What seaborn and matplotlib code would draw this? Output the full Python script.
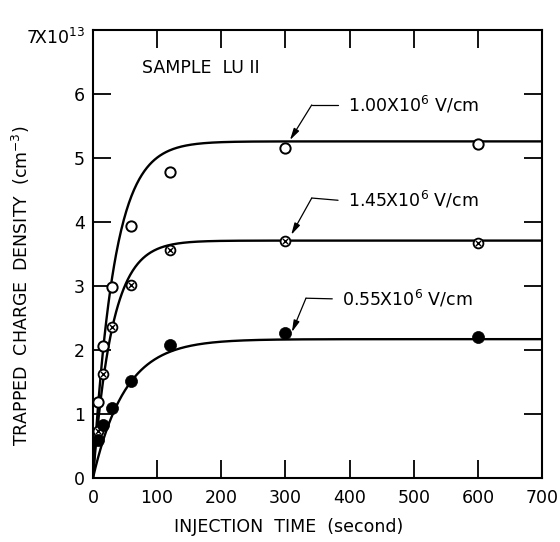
import numpy as np
import pandas as pd
import matplotlib
matplotlib.use("Agg")
import matplotlib.pyplot as plt
import matplotlib.transforms as mtransforms
import seaborn as sns

# ---- data ----
times = [7.5, 15, 30, 60, 120, 300, 600]
field_labels = ["1.00X10$^6$ V/cm", "1.45X10$^6$ V/cm", "0.55X10$^6$ V/cm"]
charge_100 = [1.19, 2.06, 2.98, 3.94, 4.78, 5.16, 5.22]
charge_145 = [0.74, 1.62, 2.36, 3.01, 3.56, 3.70, 3.67]
charge_055 = [0.59, 0.83, 1.09, 1.52, 2.08, 2.26, 2.20]
# fitted saturation curves: N(t) = Nsat * (1 - exp(-t / tau))
sat_levels = [5.26, 3.71, 2.17]
time_consts = [33.0, 30.0, 50.0]
x_ticks = [0, 100, 200, 300, 400, 500, 600, 700]
y_ticks = [0, 1, 2, 3, 4, 5, 6, 7]
y_tick_labels = ["0", "1", "2", "3", "4", "5", "6", "7X10$^{13}$"]

sns.set_style("ticks")
plt.rcParams["font.family"] = ["DejaVu Sans"]
plt.rcParams["text.color"] = "black"
plt.rcParams["axes.labelcolor"] = "black"
plt.rcParams["xtick.color"] = "black"
plt.rcParams["ytick.color"] = "black"

fig = plt.figure(figsize=(5.6, 5.42), dpi=100)
ax = fig.add_axes([0.166, 0.118, 0.802, 0.8266])

t_fit = np.linspace(0, 700, 700)
for A, tau in zip(sat_levels, time_consts):
    df = pd.DataFrame({"t": t_fit, "n": A * (1 - np.exp(-t_fit / tau))})
    sns.lineplot(data=df, x="t", y="n", ax=ax, color="black", lw=1.7, zorder=2)

df100 = pd.DataFrame({"t": times, "n": charge_100})
df145 = pd.DataFrame({"t": times, "n": charge_145})
df055 = pd.DataFrame({"t": times, "n": charge_055})

sns.scatterplot(data=df100, x="t", y="n", ax=ax, marker="o", s=55,
                facecolor="white", edgecolor="black", linewidth=1.4, zorder=3)
sns.scatterplot(data=df145, x="t", y="n", ax=ax, marker="o", s=50,
                facecolor="white", edgecolor="black", linewidth=1.3, zorder=3)
sns.scatterplot(data=df145, x="t", y="n", ax=ax, marker="x", s=14,
                color="black", linewidth=1.0, zorder=4)
sns.scatterplot(data=df055, x="t", y="n", ax=ax, marker="o", s=75,
                color="black", edgecolor="black", linewidth=0.5, zorder=3)

ax.set_xlim(0, 700)
ax.set_ylim(0, 7)
ax.set_xticks(x_ticks)
ax.set_xticklabels([str(v) for v in x_ticks])
ax.set_yticks(y_ticks)
ax.set_yticklabels(y_tick_labels)
ax.tick_params(direction="in", length=13, width=1.3, top=True, right=True,
               labelsize=12.5, pad=6, colors="black")
ax.tick_params(axis="x", pad=8)
# nudge the top "7X10^13" label down slightly, as in the reference
top_lab = ax.get_yticklabels()[-1]
top_lab.set_transform(top_lab.get_transform() +
                      mtransforms.ScaledTranslation(0, -6 / 100, fig.dpi_scale_trans))
for sp in ax.spines.values():
    sp.set_linewidth(1.5)
    sp.set_color("black")
    sp.set_visible(True)

ax.set_xlabel("INJECTION  TIME  (second)", fontsize=12.5, color="black")
ax.set_ylabel("TRAPPED  CHARGE  DENSITY  (cm$^{-3}$)", fontsize=12.5, color="black")
ax.xaxis.set_label_coords(0.435, -0.09)
ax.yaxis.set_label_coords(-0.135, 0.43)

ax.text(76, 6.4, "SAMPLE  LU II", fontsize=12.5, va="center", ha="left")

# annotations: text position, leader corner, arrow tip
label_pos = [(397, 5.83), (397, 4.34), (388, 2.80)]
corner_pos = [(341, 5.83), (341, 4.375), (332, 2.81)]
tip_pos = [(307, 5.28), (309, 3.80), (310, 2.28)]
for lab, (tx, ty), (cx, cy), (ax_, ay_) in zip(field_labels, label_pos, corner_pos, tip_pos):
    ax.text(tx, ty, lab, fontsize=12.5, va="center", ha="left")
    ax.plot([tx - 15, cx], [ty, cy], color="black", lw=0.9)
    ax.annotate("", xy=(ax_, ay_), xytext=(cx, cy),
                arrowprops=dict(arrowstyle="-|>,head_length=0.7,head_width=0.18",
                                color="black", lw=0.9, shrinkA=0, shrinkB=0))

fig.savefig("out.png", dpi=100)
